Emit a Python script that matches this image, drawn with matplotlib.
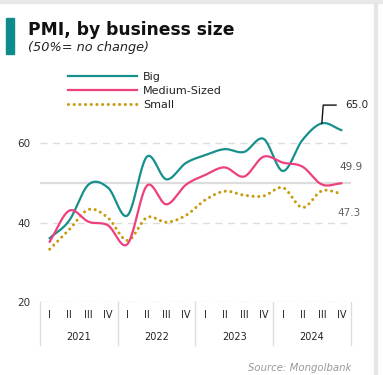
import numpy as np
import matplotlib.pyplot as plt
from matplotlib.patches import Rectangle

# quarterly PMI readings, 2021 Q1 .. 2024 Q4
quarters = ['I', 'II', 'III', 'IV'] * 4
years = ['2021', '2022', '2023', '2024']

big = [36.1, 40.5, 49.6, 48.8, 41.8, 56.6, 50.9, 55.0,
       57.0, 58.5, 57.8, 61.1, 53.0, 60.8, 65.0, 63.3]
medium = [35.2, 43.0, 40.2, 39.3, 34.6, 49.3, 44.6, 49.5,
          52.0, 53.9, 51.6, 56.6, 55.1, 54.1, 49.6, 49.9]
small = [33.3, 38.2, 43.3, 41.2, 35.5, 41.3, 40.1, 41.8,
         45.7, 47.9, 46.9, 46.7, 48.8, 43.8, 48.0, 47.3]

TEAL = '#17908d'
PINK = '#ee3f7e'
GOLD = '#c99a0e'
W, H = 383, 375


def smooth(y, n=24):
    # cubic hermite through every point (catmull-rom tangents)
    y = np.asarray(y, float)
    m = np.gradient(y)
    t = np.linspace(0, 1, n, endpoint=False)
    h00 = 2 * t**3 - 3 * t**2 + 1
    h10 = t**3 - 2 * t**2 + t
    h01 = -2 * t**3 + 3 * t**2
    h11 = t**3 - t**2
    xs, ys = [], []
    for i in range(len(y) - 1):
        xs.append(i + t)
        ys.append(h00 * y[i] + h10 * m[i] + h01 * y[i + 1] + h11 * m[i + 1])
    xs.append([len(y) - 1])
    ys.append([y[-1]])
    return np.concatenate(xs), np.concatenate(ys)


fig = plt.figure(figsize=(W / 100, H / 100), dpi=100)

# page frame, title block
fig.patches.append(Rectangle((0, 1 - 3 / H), 1, 3 / H, transform=fig.transFigure,
                             color='#e8e8e8', zorder=0))
fig.patches.append(Rectangle((374 / W, 0), 3 / W, 1 - 3 / H, transform=fig.transFigure,
                             color='#e6e6e6', zorder=0))
fig.patches.append(Rectangle((6 / W, 1 - 54 / H), 8 / W, 36 / H, transform=fig.transFigure,
                             color='#0f8b8b', zorder=1))
fig.text(28 / W, 1 - 30 / H, 'PMI, by business size', fontsize=12.3, fontweight='bold',
         color='#111111', va='center', ha='left')
fig.text(28 / W, 1 - 47 / H, '(50%= no change)', fontsize=9.3, style='italic',
         color='#222222', va='center', ha='left')
fig.text(351 / W, 1 - 368 / H, 'Source: Mongolbank', fontsize=7.3, style='italic',
         color='#999999', va='center', ha='right')

ax = fig.add_axes([40 / W, 1 - 302 / H, 311 / W, (302 - 63.8) / H])
ax.set_xlim(-0.5, 15.5)
ax.set_ylim(20, 80)
for s in ax.spines.values():
    s.set_visible(False)

for v in (20, 40, 60):
    ax.axhline(v, color='#dddddd', lw=1, ls=(0, (5, 4)), zorder=1)
ax.axhline(50, color='#dddddd', lw=1.6, zorder=1)

ax.set_yticks([20, 40, 60])
ax.tick_params(axis='y', length=0, pad=7, labelsize=7.5, labelcolor='#333333')
ax.set_xticks([])

# quarter / year axis with separators
tr = ax.get_xaxis_transform()
for i, q in enumerate(quarters):
    ax.text(i, -13 / 238.2, q, transform=tr, ha='center', va='center',
            fontsize=7, color='#222222')
for k, yr in enumerate(years):
    ax.text(4 * k + 1.5, -35 / 238.2, yr, transform=tr, ha='center', va='center',
            fontsize=7, color='#222222')
for b in (-0.5, 3.5, 7.5, 11.5, 15.5):
    ax.plot([b, b], [0, -43 / 238.2], transform=tr, color='#dddddd', lw=1,
            clip_on=False)

x, y = smooth(big)
ax.plot(x, y, color=TEAL, lw=1.6, label='Big', zorder=3)
x, y = smooth(medium)
ax.plot(x, y, color=PINK, lw=1.6, label='Medium-Sized', zorder=3)
x, y = smooth(small)
ax.plot(x, y, color=GOLD, lw=2.2, ls=(0, (0.01, 1.85)), dash_capstyle='round',
        label='Small', zorder=2)

ax.legend(loc='upper left', bbox_to_anchor=(68 / W, 1 - 72 / H),
          bbox_transform=fig.transFigure, frameon=False, fontsize=8,
          handlelength=6.2, handletextpad=0.55, labelspacing=0.35,
          borderpad=0, borderaxespad=0, labelcolor='#222222')

# end-value labels
ax.plot([14, 14.07, 14.73], [big[14], 69.6, 69.6], color='#111111', lw=1, zorder=4)
ax.text(15.19, 69.6, f'{big[14]:.1f}', fontsize=7.5, color='#222222',
        ha='left', va='center')
ax.text(14.93, 54.0, f'{medium[-1]:.1f}', fontsize=7.5, color='#555555',
        ha='left', va='center')
ax.text(14.78, 42.4, f'{small[-1]:.1f}', fontsize=7.5, color='#666666',
        ha='left', va='center')

fig.savefig('out.png', dpi=100)
